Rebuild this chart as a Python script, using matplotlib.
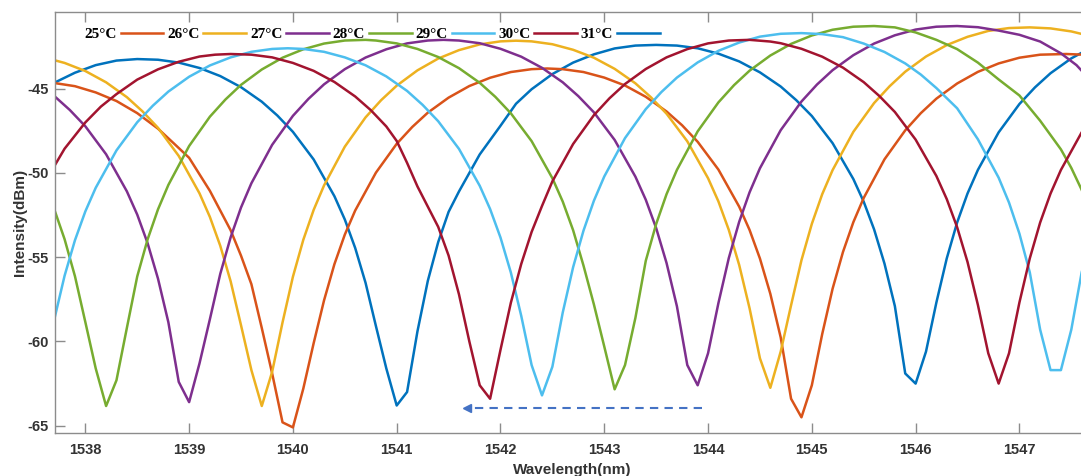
import matplotlib
matplotlib.use("Agg")
import matplotlib.pyplot as plt

plt.rcParams['axes.unicode_minus'] = False

# spectra (wavelength nm, intensity dBm)
blue_x = [1537.5, 1537.7, 1537.9, 1538.1, 1538.3, 1538.5, 1538.7, 1538.9, 1539.1, 1539.3, 1539.5, 1539.7,
          1539.85, 1540.0, 1540.2, 1540.4, 1540.5, 1540.6, 1540.7, 1540.8, 1540.9, 1541.0,
          1541.1, 1541.2, 1541.3, 1541.4, 1541.5, 1541.6, 1541.8, 1542.0, 1542.15, 1542.3, 1542.5, 1542.7,
          1542.9, 1543.1, 1543.3, 1543.5, 1543.7, 1543.9, 1544.1, 1544.3, 1544.5, 1544.7, 1544.85, 1545.0,
          1545.2, 1545.4, 1545.5, 1545.6, 1545.7, 1545.8, 1545.9, 1546.0, 1546.1, 1546.2, 1546.3, 1546.4,
          1546.5, 1546.6, 1546.8, 1547.0, 1547.15, 1547.3, 1547.5, 1547.7]
blue_y = [-45.3, -44.65, -44.05, -43.6, -43.33, -43.24, -43.28, -43.45, -43.77, -44.25, -44.91, -45.77,
          -46.59, -47.56, -49.2, -51.38, -52.76, -54.45, -56.52, -59.09, -61.6, -63.8,
          -63.0, -59.4, -56.4, -54.1, -52.31, -51.1, -48.9, -47.2, -45.89, -45.03, -44.13, -43.45,
          -42.96, -42.61, -42.44, -42.4, -42.44, -42.6, -42.92, -43.38, -44.03, -44.87, -45.68, -46.62,
          -48.23, -50.36, -51.71, -53.35, -55.38, -57.9, -61.9, -62.5, -60.6, -57.69, -55.07, -52.94,
          -51.22, -49.82, -47.59, -45.91, -44.92, -44.08, -43.2, -42.53]

orange_x = [1537.5, 1537.7, 1537.9, 1538.1, 1538.3, 1538.5, 1538.7, 1538.85, 1539.0, 1539.2, 1539.4, 1539.5,
            1539.6, 1539.7, 1539.8, 1539.9, 1540.0, 1540.1, 1540.2, 1540.3, 1540.4, 1540.5, 1540.6, 1540.8,
            1541.0, 1541.15, 1541.3, 1541.5, 1541.7, 1541.9, 1542.1, 1542.3, 1542.45, 1542.6, 1542.8, 1543.0,
            1543.2, 1543.4, 1543.6, 1543.75, 1543.9, 1544.1, 1544.3, 1544.4, 1544.5, 1544.6, 1544.7, 1544.8,
            1544.9, 1545.0, 1545.1, 1545.2, 1545.3, 1545.4, 1545.5, 1545.7, 1545.9, 1546.05, 1546.2, 1546.4,
            1546.6, 1546.8, 1547.0, 1547.2, 1547.45, 1547.7]
orange_y = [-44.62, -44.66, -44.85, -45.22, -45.73, -46.45, -47.37, -48.23, -49.1, -51.06, -53.4, -54.91,
            -56.6, -59.2, -61.9, -64.8, -65.1, -62.8, -60.1, -57.56, -55.41, -53.66, -52.23, -49.98,
            -48.27, -47.27, -46.42, -45.53, -44.84, -44.35, -44.01, -43.84, -43.8, -43.84, -44.01, -44.34,
            -44.81, -45.48, -46.35, -47.17, -48.15, -49.8, -52.0, -53.38, -55.08, -57.17, -59.76, -63.4,
            -64.5, -62.6, -59.56, -56.87, -54.69, -52.92, -51.48, -49.19, -47.47, -46.45, -45.59, -44.69,
            -44.0, -43.5, -43.16, -42.98, -42.94, -43.0]

yellow_x = [1537.5, 1537.6, 1537.8, 1538.0, 1538.2, 1538.4, 1538.55, 1538.7, 1538.9, 1539.1, 1539.2, 1539.3,
            1539.4, 1539.5, 1539.6, 1539.7, 1539.8, 1539.9, 1540.0, 1540.1, 1540.2, 1540.3, 1540.5, 1540.7,
            1540.85, 1541.0, 1541.2, 1541.4, 1541.6, 1541.8, 1542.0, 1542.15, 1542.3, 1542.5, 1542.7, 1542.9,
            1543.1, 1543.3, 1543.45, 1543.6, 1543.8, 1544.0, 1544.1, 1544.2, 1544.3, 1544.4, 1544.5, 1544.6,
            1544.7, 1544.8, 1544.9, 1545.0, 1545.1, 1545.2, 1545.4, 1545.6, 1545.75, 1545.9, 1546.1, 1546.3,
            1546.5, 1546.7, 1546.9, 1547.1, 1547.3, 1547.5, 1547.7]
yellow_y = [-43.03, -43.14, -43.47, -43.95, -44.62, -45.5, -46.34, -47.32, -48.99, -51.21, -52.61, -54.32,
            -56.43, -59.04, -61.7, -63.83, -61.8, -58.87, -56.16, -53.97, -52.19, -50.74, -48.44, -46.7,
            -45.68, -44.82, -43.91, -43.21, -42.71, -42.37, -42.19, -42.15, -42.19, -42.36, -42.69, -43.16,
            -43.82, -44.68, -45.51, -46.48, -48.12, -50.31, -51.69, -53.38, -55.46, -58.03, -61.0, -62.75,
            -60.6, -57.85, -55.18, -53.02, -51.26, -49.83, -47.56, -45.85, -44.85, -43.99, -43.09, -42.41,
            -41.92, -41.57, -41.4, -41.36, -41.42, -41.6, -41.9]

purple_x = [1537.5, 1537.7, 1537.85, 1538.0, 1538.2, 1538.4, 1538.5, 1538.6, 1538.7, 1538.8, 1538.9, 1539.0,
            1539.1, 1539.2, 1539.3, 1539.4, 1539.5, 1539.6, 1539.8, 1540.0, 1540.15, 1540.3, 1540.5, 1540.7,
            1540.9, 1541.1, 1541.3, 1541.45, 1541.6, 1541.8, 1542.0, 1542.2, 1542.4, 1542.6, 1542.75, 1542.9,
            1543.1, 1543.3, 1543.4, 1543.5, 1543.6, 1543.7, 1543.8, 1543.9, 1544.0, 1544.1, 1544.2, 1544.3,
            1544.4, 1544.5, 1544.7, 1544.9, 1545.05, 1545.2, 1545.4, 1545.6, 1545.8, 1546.0, 1546.2, 1546.4,
            1546.6, 1546.8, 1547.0, 1547.2, 1547.4, 1547.55, 1547.7]
purple_y = [-44.56, -45.43, -46.26, -47.23, -48.89, -51.09, -52.47, -54.17, -56.27, -58.86, -62.4, -63.6,
            -61.3, -58.68, -55.99, -53.82, -52.05, -50.61, -48.33, -46.61, -45.6, -44.74, -43.84, -43.15,
            -42.66, -42.31, -42.14, -42.1, -42.14, -42.3, -42.63, -43.1, -43.76, -44.62, -45.44, -46.4,
            -48.04, -50.22, -51.59, -53.27, -55.34, -57.91, -61.4, -62.6, -60.7, -57.72, -55.05, -52.9,
            -51.15, -49.72, -47.46, -45.76, -44.75, -43.9, -43.01, -42.32, -41.83, -41.49, -41.32, -41.28,
            -41.35, -41.55, -41.8, -42.2, -42.9, -43.6, -44.6]

green_x = [1537.5, 1537.6, 1537.7, 1537.8, 1537.9, 1538.0, 1538.1, 1538.2, 1538.3, 1538.4, 1538.5, 1538.6,
           1538.7, 1538.8, 1539.0, 1539.2, 1539.35, 1539.5, 1539.7, 1539.9, 1540.1, 1540.3, 1540.5, 1540.7,
           1540.8, 1541.0, 1541.2, 1541.4, 1541.6, 1541.8, 1541.95, 1542.1, 1542.3, 1542.5, 1542.6, 1542.7,
           1542.8, 1542.9, 1543.0, 1543.1, 1543.2, 1543.3, 1543.4, 1543.5, 1543.6, 1543.7, 1543.9, 1544.1,
           1544.25, 1544.4, 1544.6, 1544.8, 1545.0, 1545.2, 1545.4, 1545.6, 1545.8, 1546.0, 1546.2, 1546.4,
           1546.6, 1546.8, 1547.0, 1547.2, 1547.4, 1547.5, 1547.6, 1547.7]
green_y = [-49.45, -50.69, -52.15, -53.93, -56.13, -58.85, -61.6, -63.83, -62.3, -59.2, -56.14, -53.94,
           -52.16, -50.71, -48.4, -46.66, -45.64, -44.77, -43.86, -43.16, -42.66, -42.32, -42.14, -42.1,
           -42.14, -42.31, -42.64, -43.12, -43.78, -44.65, -45.48, -46.46, -48.11, -50.31, -51.7, -53.4,
           -55.5, -57.8, -60.3, -62.84, -61.4, -58.6, -55.21, -53.03, -51.26, -49.82, -47.53, -45.81,
           -44.79, -43.93, -43.03, -42.34, -41.84, -41.5, -41.32, -41.28, -41.36, -41.66, -42.1, -42.65,
           -43.45, -44.45, -45.4, -46.9, -48.6, -49.7, -51.0, -52.6]

lblue_x = [1537.5, 1537.6, 1537.7, 1537.8, 1537.9, 1538.0, 1538.1, 1538.3, 1538.5, 1538.65, 1538.8, 1539.0,
           1539.2, 1539.4, 1539.6, 1539.8, 1539.95, 1540.1, 1540.3, 1540.5, 1540.7, 1540.9, 1541.1, 1541.25,
           1541.4, 1541.6, 1541.8, 1541.9, 1542.0, 1542.1, 1542.2, 1542.3, 1542.4, 1542.5, 1542.6, 1542.7,
           1542.8, 1542.9, 1543.0, 1543.2, 1543.4, 1543.55, 1543.7, 1543.9, 1544.1, 1544.3, 1544.5, 1544.7,
           1544.9, 1545.1, 1545.3, 1545.5, 1545.7, 1545.9, 1546.05, 1546.2, 1546.4, 1546.6, 1546.8, 1546.9,
           1547.0, 1547.1, 1547.2, 1547.3, 1547.4, 1547.5, 1547.6, 1547.7]
lblue_y = [-63.5, -61.7, -58.71, -56.1, -53.99, -52.28, -50.88, -48.66, -46.99, -46.01, -45.17, -44.29,
           -43.62, -43.14, -42.81, -42.64, -42.6, -42.64, -42.81, -43.14, -43.61, -44.27, -45.13, -45.96,
           -46.93, -48.57, -50.76, -52.14, -53.83, -55.91, -58.48, -61.4, -63.2, -61.5, -58.28, -55.59,
           -53.42, -51.65, -50.21, -47.93, -46.21, -45.2, -44.34, -43.44, -42.75, -42.26, -41.91, -41.74,
           -41.7, -41.76, -41.94, -42.32, -42.82, -43.5, -44.16, -44.96, -46.16, -48.0, -50.28, -51.76,
           -53.6, -55.9, -59.3, -61.7, -61.7, -59.3, -55.9, -53.6]

dred_x = [1537.5, 1537.6, 1537.8, 1538.0, 1538.15, 1538.3, 1538.5, 1538.7, 1538.9, 1539.1, 1539.25, 1539.4,
          1539.6, 1539.8, 1540.0, 1540.2, 1540.4, 1540.6, 1540.75, 1540.9, 1541.0, 1541.1, 1541.2, 1541.3,
          1541.4, 1541.5, 1541.6, 1541.7, 1541.8, 1541.9, 1542.0, 1542.1, 1542.2, 1542.3, 1542.4, 1542.5,
          1542.7, 1542.9, 1543.05, 1543.2, 1543.4, 1543.6, 1543.8, 1544.0, 1544.2, 1544.4, 1544.6, 1544.7,
          1544.9, 1545.1, 1545.3, 1545.5, 1545.65, 1545.8, 1546.0, 1546.2, 1546.3, 1546.4, 1546.5, 1546.6,
          1546.7, 1546.8, 1546.9, 1547.0, 1547.1, 1547.2, 1547.3, 1547.4, 1547.6, 1547.7]
dred_y = [-51.97, -50.65, -48.56, -47.0, -46.06, -45.32, -44.46, -43.85, -43.4, -43.09, -42.98, -42.94,
          -42.98, -43.14, -43.47, -43.94, -44.6, -45.46, -46.27, -47.24, -48.1, -49.4, -50.8, -52.0,
          -53.2, -54.9, -57.2, -60.0, -62.6, -63.4, -60.5, -57.7, -55.4, -53.5, -51.96, -50.5,
          -48.28, -46.57, -45.57, -44.72, -43.83, -43.14, -42.65, -42.31, -42.14, -42.1, -42.2, -42.3,
          -42.63, -43.1, -43.75, -44.61, -45.43, -46.38, -48.02, -50.18, -51.55, -53.22, -55.28, -57.83,
          -60.7, -62.5, -60.7, -57.69, -55.07, -52.94, -51.22, -49.82, -47.59, -46.75]

labels = ["25\u00b0C", "26\u00b0C", "27\u00b0C", "28\u00b0C", "29\u00b0C", "30\u00b0C", "31\u00b0C"]
colors = ["#D95319", "#EDB120", "#7E2F8E", "#77AC30", "#4DBEEE", "#A2142F", "#0072BD"]
series = [(orange_x, orange_y), (yellow_x, yellow_y), (purple_x, purple_y), (green_x, green_y),
          (lblue_x, lblue_y), (dred_x, dred_y), (blue_x, blue_y)]

xticks = list(range(1538, 1548))
yticks = [-65, -60, -55, -50, -45]

fig = plt.figure(figsize=(10.81, 4.76), dpi=100)
ax = fig.add_axes([0.0512, 0.0897, 0.9572, 0.8857])

# blue first so the others sit on top (matlab order)
handles = [None] * 7
for i in [6, 0, 1, 2, 3, 4, 5]:
    x, y = series[i]
    ln, = ax.plot(x, y, color=colors[i], lw=1.8)
    handles[i] = ln

# dashed arrow showing the shift
ax.plot([1543.94, 1541.72], [-63.97, -63.97], color="#4472C4", lw=1.5, dashes=(4, 3))
ax.plot([1541.68], [-63.97], marker='<', color="#4472C4", ms=6, mec="#4472C4")

ax.set_xlim(1537.711, 1547.681)
ax.set_ylim(-65.45, -40.43)
ax.set_xticks(xticks)
ax.set_yticks(yticks)

for s in ['left', 'bottom', 'top']:
    ax.spines[s].set_color('#8c8c8c')
    ax.spines[s].set_linewidth(1.0)
ax.spines['right'].set_visible(False)
ax.tick_params(direction='in', length=7, width=1, color='#8c8c8c', top=True, right=False,
               labelsize=10.5, labelcolor='#333333')
ax.tick_params(axis='x', pad=7)
ax.tick_params(axis='y', pad=4.5)
for lab in ax.get_xticklabels() + ax.get_yticklabels():
    lab.set_fontweight('bold')
    lab.set_fontfamily('Liberation Sans')

ax.set_xlabel("Wavelength(nm)", fontsize=11, fontweight='bold', family='Liberation Sans',
              color='#333333', labelpad=4)
ax.set_ylabel("Intensity(dBm)", fontsize=11, fontweight='bold', family='Liberation Sans',
              color='#333333')
ax.yaxis.set_label_coords(-0.0275, 0.5)

leg = ax.legend(handles, labels, loc='upper left', bbox_to_anchor=(0.028, 0.963), ncol=7,
                markerfirst=False, frameon=False, handlelength=2.8, handletextpad=0.25,
                columnspacing=0.25, borderpad=0, borderaxespad=0,
                prop={'family': 'Liberation Serif', 'weight': 'bold', 'size': 11})

fig.savefig("out.png", dpi=100)
